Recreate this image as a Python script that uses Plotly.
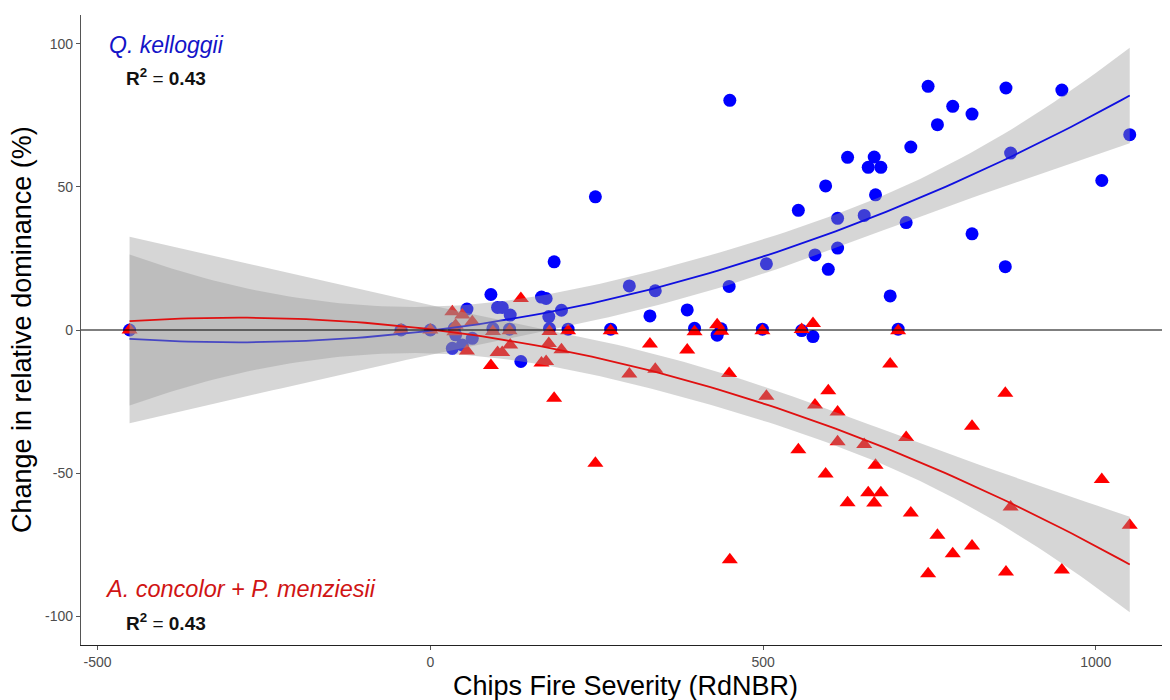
import numpy as np
import plotly.graph_objects as go

# ---- data (RdNBR vs change in relative dominance, %) ----
rdnbr = [-452, -44, 0, 36, 38, 33, 48, 63, 55, 91, 94, 101, 108, 120, 119, 136,
         167, 174, 178, 179, 186, 197, 207, 248, 271, 299, 330, 338, 386, 397,
         431, 437, 449, 450, 499, 505, 553, 558, 575, 578, 594, 598, 612, 612,
         627, 652, 658, 667, 669, 677, 691, 703, 715, 722, 748, 762, 785, 814,
         814, 864, 865, 872, 949, 1009, 1051]

q_kelloggii = [0, 0, 0, 0.6, -1.7, -6.4, -5.2, -2.9, 7.3, 12.4, 0.5, 7.9, 7.9, 5.2, 0.3, -11,
               11.5, 11, 4.7, 0.5, 23.8, 6.9, 0.3, 46.5, 0.3, 15.4, 4.9, 13.7, 7, 0.6,
               -1.8, 0.4, 15.2, 80.2, 0.3, 23.1, 41.8, -0.2, -2.3, 26.2, 50.3, 21.2, 39, 28.6,
               60.3, 40, 56.8, 60.4, 47.2, 56.8, 11.9, 0.3, 37.5, 63.9, 85.1, 71.7, 78.1, 75.4,
               33.6, 22.1, 84.5, 61.8, 83.8, 52.2, 68.2]

conifers = [0, 0, 0, -0.6, 1.7, 6.4, 5.2, 2.9, -7.3, -12.4, -0.5, -7.9, -7.9, -5.2, -0.3, 11,
            -11.5, -11, -4.7, -0.5, -23.8, -6.9, -0.3, -46.5, -0.3, -15.4, -4.9, -13.7, -7, -0.6,
            1.8, -0.4, -15.2, -80.2, -0.3, -23.1, -41.8, 0.2, 2.3, -26.2, -50.3, -21.2, -39, -28.6,
            -60.3, -40, -56.8, -60.4, -47.2, -56.8, -11.9, -0.3, -37.5, -63.9, -85.1, -71.7, -78.1, -75.4,
            -33.6, -22.1, -84.5, -61.8, -83.8, -52.2, -68.2]

x_ticks = [-500, 0, 500, 1000]
y_ticks = [-100, -50, 0, 50, 100]


def t_quantile(nu, z=1.959964):
    # Cornish-Fisher expansion of the Student t 97.5% quantile
    return (z + (z**3 + z) / (4 * nu)
            + (5 * z**5 + 16 * z**3 + 3 * z) / (96 * nu**2)
            + (3 * z**7 + 19 * z**5 + 17 * z**3 - 15 * z) / (384 * nu**3))


def quad_fit(x, y, grid):
    x = np.asarray(x, float)
    y = np.asarray(y, float)
    X = np.column_stack([np.ones_like(x), x, x**2])
    beta, *_ = np.linalg.lstsq(X, y, rcond=None)
    resid = y - X @ beta
    n, p = X.shape
    s2 = resid @ resid / (n - p)
    cov = s2 * np.linalg.inv(X.T @ X)
    G = np.column_stack([np.ones_like(grid), grid, grid**2])
    fit = G @ beta
    se = np.sqrt(np.einsum("ij,jk,ik->i", G, cov, G))
    t = t_quantile(n - p)
    return fit, fit - t * se, fit + t * se


grid = np.linspace(min(rdnbr), max(rdnbr), 120)

fig = go.Figure()

fig.add_trace(go.Scatter(x=rdnbr, y=q_kelloggii, mode="markers",
                         marker=dict(symbol="circle", size=13, color="#0000FF", line=dict(width=0)),
                         showlegend=False))
fig.add_trace(go.Scatter(x=rdnbr, y=conifers, mode="markers",
                         marker=dict(symbol="triangle-up", size=14, color="#FF0000", line=dict(width=0)),
                         showlegend=False))

for yy, col in [(q_kelloggii, "#1010E0"), (conifers, "#E01010")]:
    fit, lo, hi = quad_fit(rdnbr, yy, grid)
    fig.add_trace(go.Scatter(x=np.concatenate([grid, grid[::-1]]),
                             y=np.concatenate([hi, lo[::-1]]),
                             fill="toself", fillcolor="rgba(153,153,153,0.4)",
                             line=dict(width=0), mode="lines", hoverinfo="skip",
                             showlegend=False))
    fig.add_trace(go.Scatter(x=grid, y=fit, mode="lines",
                             line=dict(color=col, width=1.8), showlegend=False))

fig.add_hline(y=0, line=dict(color="black", width=1.2), layer="above")

font_fam = "Liberation Sans, Arial, sans-serif"

fig.add_annotation(x=-486, y=99.5, text="<i>Q. kelloggii</i>", showarrow=False,
                   xanchor="left", yanchor="middle",
                   font=dict(family=font_fam, size=23, color="#1414C8"))
fig.add_annotation(x=-460, y=88.5, text="<b>R<sup>2</sup></b> = <b>0.43</b>", showarrow=False,
                   xanchor="left", yanchor="middle",
                   font=dict(family=font_fam, size=19, color="#111111"))
fig.add_annotation(x=-492, y=-90.5, text="<i>A. concolor + P. menziesii</i>", showarrow=False,
                   xanchor="left", yanchor="middle",
                   font=dict(family=font_fam, size=23.5, color="#D01414"))
fig.add_annotation(x=-460, y=-102, text="<b>R<sup>2</sup></b> = <b>0.43</b>", showarrow=False,
                   xanchor="left", yanchor="middle",
                   font=dict(family=font_fam, size=19, color="#111111"))

# axis titles placed in the margins
fig.add_annotation(xref="paper", yref="paper", x=0.5, y=0, yshift=-41,
                   text="Chips Fire Severity (RdNBR)", showarrow=False,
                   xanchor="center", yanchor="middle",
                   font=dict(family=font_fam, size=27, color="black"))
fig.add_annotation(xref="paper", yref="paper", x=0, y=0.5, xshift=-59,
                   text="Change in relative dominance (%)", showarrow=False, textangle=-90,
                   xanchor="center", yanchor="middle",
                   font=dict(family=font_fam, size=27, color="black"))

# the page body adds an 8px margin, so the figure is sized to fit 1170x700
fig.update_layout(
    width=1162, height=692,
    margin=dict(l=73, r=1, t=7, b=55),
    paper_bgcolor="white", plot_bgcolor="white",
    font=dict(family=font_fam),
    xaxis=dict(range=[-525, 1110], tickvals=x_ticks, ticktext=[str(v) for v in x_ticks],
               automargin=False,
               showgrid=False, zeroline=False, showline=True, linecolor="#222222", linewidth=1.3,
               ticks="outside", ticklen=4, tickcolor="#555555",
               tickfont=dict(size=14, color="#4D4D4D")),
    yaxis=dict(range=[-110, 110], tickvals=y_ticks, ticktext=[str(v) for v in y_ticks],
               automargin=False,
               showgrid=False, zeroline=False, showline=True, linecolor="#555555", linewidth=1.3,
               ticks="outside", ticklen=4, tickcolor="#555555",
               tickfont=dict(size=14, color="#4D4D4D")),
)

fig.write_html("out.html")
